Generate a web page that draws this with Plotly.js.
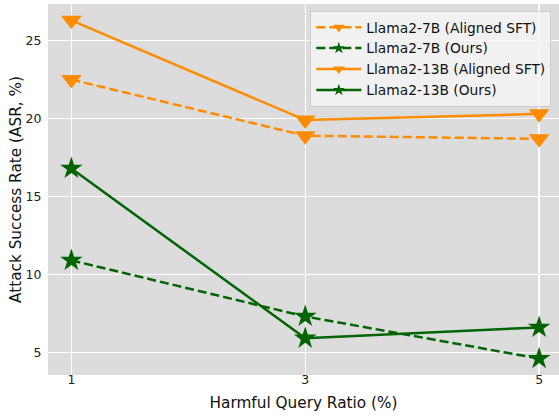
<!DOCTYPE html>
<html>
<head>
<meta charset="utf-8">
<script src="https://cdn.plot.ly/plotly-3.0.1.min.js"></script>
<style>html,body{margin:0;padding:0;background:#fff;}#chart{width:559px;height:416px;}</style>
</head>
<body>
<div id="chart"></div>
<script>
const ratios = [1, 3, 5];
const tickLabels = ['1', '3', '5'];
const yTicks = [5, 10, 15, 20, 25];
const llama7bSFT = [22.5, 18.9, 18.7];
const llama7bOurs = [10.9, 7.3, 4.6];
const llama13bSFT = [26.3, 19.9, 20.3];
const llama13bOurs = [16.8, 5.9, 6.6];
const seriesNames = ['Llama2-7B (Aligned SFT)', 'Llama2-7B (Ours)', 'Llama2-13B (Aligned SFT)', 'Llama2-13B (Ours)'];

const orange = '#ff8c00';
const green = '#006400';

const styles = [
  {y: llama7bSFT, color: orange, dash: '9px,4px', symbol: 'triangle-down', size: 18},
  {y: llama7bOurs, color: green, dash: '9px,4px', symbol: 'star', size: 17},
  {y: llama13bSFT, color: orange, dash: 'solid', symbol: 'triangle-down', size: 18},
  {y: llama13bOurs, color: green, dash: 'solid', symbol: 'star', size: 17}
];

const data = [];
styles.forEach((s, i) => {
  data.push({
    x: ratios, y: s.y, name: seriesNames[i], type: 'scatter', mode: 'lines+markers',
    showlegend: false,
    line: {color: s.color, width: 2.5, dash: s.dash},
    marker: {color: s.color, symbol: s.symbol, size: s.size}
  });
});
// legend entries with smaller markers, as in the original legend
styles.forEach((s, i) => {
  data.push({
    x: [null], y: [null], name: seriesNames[i], type: 'scatter', mode: 'lines+markers',
    showlegend: true,
    line: {color: s.color, width: 2.5, dash: s.dash},
    marker: {color: s.color, symbol: s.symbol, size: s.symbol === 'star' ? 9 : 10}
  });
});

const layout = {
  width: 559, height: 416,
  margin: {l: 48, r: 0, t: 4, b: 41},
  paper_bgcolor: '#ffffff',
  plot_bgcolor: '#dcdcdc',
  font: {family: 'DejaVu Sans, sans-serif', size: 12.5, color: '#222'},
  showlegend: true,
  legend: {
    x: 0.985, y: 0.982, xanchor: 'right', yanchor: 'top',
    bgcolor: 'rgba(245,245,245,0.85)', bordercolor: '#cccccc', borderwidth: 1,
    font: {size: 13.8, color: '#111'}, itemwidth: 45, tracegroupgap: 0
  },
  xaxis: {
    range: [0.8, 5.17], tickvals: ratios, ticktext: tickLabels,
    showgrid: true, gridcolor: '#ffffff', gridwidth: 1.3, zeroline: false,
    ticks: '', ticklabelstandoff: -5, tickfont: {size: 12.5, color: '#222'},
    title: {text: 'Harmful Query Ratio (%)', font: {size: 15.3, color: '#111'}, standoff: 11}
  },
  yaxis: {
    range: [3.545, 27.35], tickvals: yTicks,
    showgrid: true, gridcolor: '#ffffff', gridwidth: 1.3, zeroline: false,
    ticks: 'outside', ticklen: 3, tickcolor: 'rgba(0,0,0,0)',
    tickfont: {size: 12.5, color: '#222'},
    title: {text: 'Attack Success Rate (ASR, %)', font: {size: 15.3, color: '#111'}, standoff: 0}
  }
};

Plotly.newPlot('chart', data, layout, {displayModeBar: false, staticPlot: true});
</script>
</body>
</html>
